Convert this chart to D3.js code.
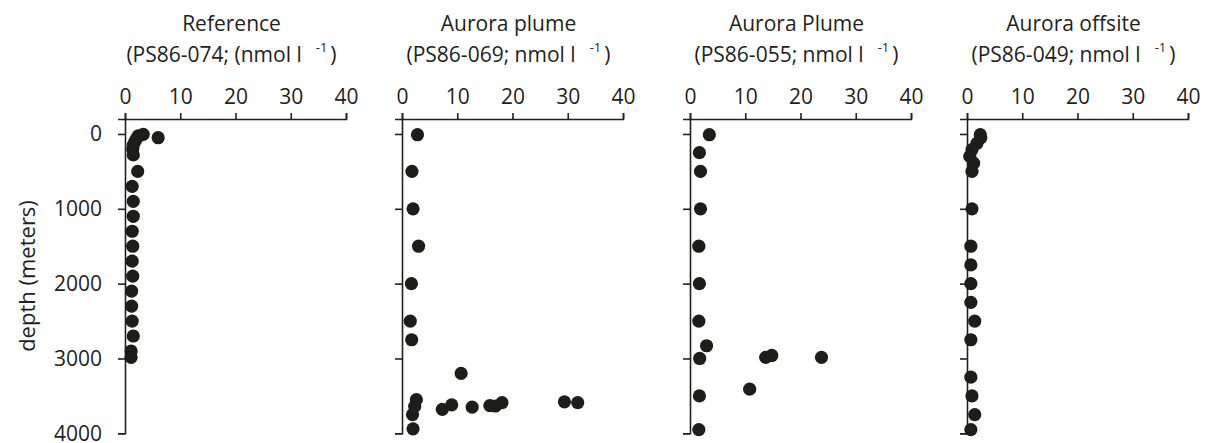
<!DOCTYPE html>
<html>
<head>
<meta charset="utf-8">
<script src="https://cdn.jsdelivr.net/npm/d3@7"></script>
<style>
  body { margin: 0; background: #fff; }
  text { font-family: "Open Sans", sans-serif; fill: #231f20; }
  .axis path, .axis line { stroke: #231f20; stroke-width: 1.6px; }
  .axis text { font-size: 21px; }
</style>
</head>
<body>
<script>
(function() {

//station titles
var titles = ["Reference", "Aurora plume", "Aurora Plume", "Aurora offsite"];
var stations = ["(PS86-074; (nmol l", "(PS86-069; nmol l", "(PS86-055; nmol l", "(PS86-049; nmol l"];

//tick values
var xTicks = [0, 10, 20, 30, 40];
var yTicks = [0, 1000, 2000, 3000, 4000];

//values (nmol/l) and depths (m)
var refDepth = [5, 25, 50, 60, 100, 150, 200, 280, 500, 700, 900, 1100, 1300, 1500, 1700, 1900, 2100, 2300, 2500, 2700, 2900, 2985];
var refConc  = [3.3, 2.4, 6.0, 2.1, 1.8, 1.5, 1.4, 1.5, 2.3, 1.3, 1.5, 1.5, 1.3, 1.4, 1.3, 1.4, 1.2, 1.2, 1.3, 1.5, 1.1, 1.1];

var p69Depth = [10, 500, 1000, 1500, 2000, 2500, 2750, 3200, 3550, 3640, 3750, 3940, 3680, 3620, 3650, 3630, 3635, 3590, 3580, 3590];
var p69Conc  = [2.8, 1.8, 2.0, 3.0, 1.7, 1.5, 1.75, 10.7, 2.6, 2.3, 1.9, 2.0, 7.3, 9.0, 12.7, 15.9, 16.9, 18.1, 29.4, 31.8];

var p55Depth = [10, 250, 500, 1000, 1500, 2000, 2500, 2830, 3000, 2985, 2960, 2985, 3410, 3500, 3950];
var p55Conc  = [3.5, 1.7, 1.9, 1.9, 1.6, 1.7, 1.6, 3.0, 1.75, 13.7, 14.8, 23.8, 10.8, 1.7, 1.6];

var p49Depth = [10, 50, 125, 210, 300, 390, 500, 1000, 1500, 1750, 2000, 2250, 2500, 2750, 3250, 3500, 3750, 3950];
var p49Conc  = [2.4, 2.5, 1.8, 0.9, 0.5, 1.2, 0.9, 0.9, 0.7, 0.7, 0.7, 0.7, 1.4, 0.7, 0.7, 0.9, 1.4, 0.7];

var depths = [refDepth, p69Depth, p55Depth, p49Depth];
var concs = [refConc, p69Conc, p55Conc, p49Conc];

//frame layout
var width = 1206, height = 443;
var panelLeft = [125, 402, 690, 967],
    panelWidth = 221,
    plotTop = 119,
    plotBottom = 433.3;

var svg = d3.select("body")
    .append("svg")
    .attr("width", width)
    .attr("height", height);

//depth scale, axis line sits 200 m above the surface
var yScale = d3.scaleLinear()
    .domain([-200, 4000])
    .range([plotTop, plotBottom]);

//y axis title
svg.append("text")
    .attr("transform", "translate(27,276) rotate(-90)")
    .attr("text-anchor", "middle")
    .attr("dy", "0.35em")
    .style("font-size", "22px")
    .text("depth (meters)");

panelLeft.forEach(function(x0, i) {
    var xScale = d3.scaleLinear()
        .domain([0, 40])
        .range([x0, x0 + panelWidth]);

    var cx = x0 + panelWidth / 2 - 4;

    //two line title with superscript
    svg.append("text")
        .attr("x", cx)
        .attr("y", 31)
        .attr("text-anchor", "middle")
        .style("font-size", "21px")
        .text(titles[i]);

    var sub = svg.append("text")
        .attr("x", cx)
        .attr("y", 62)
        .attr("text-anchor", "middle")
        .style("font-size", "21px");
    sub.append("tspan").text(stations[i]);
    sub.append("tspan")
        .attr("dx", 14)
        .attr("dy", -10)
        .style("font-size", "13px")
        .text("-1");
    sub.append("tspan")
        .attr("dx", 3)
        .attr("dy", 10)
        .text(")");

    //top x axis
    svg.append("g")
        .attr("class", "axis")
        .attr("transform", "translate(0," + plotTop + ")")
        .call(d3.axisTop(xScale).tickValues(xTicks).tickSizeOuter(0).tickSize(6).tickPadding(9));

    //left depth axis, labels only on the first panel
    var yAxis = d3.axisLeft(yScale)
        .tickValues(yTicks)
        .tickFormat(d3.format("d"))
        .tickSizeOuter(0)
        .tickSize(7)
        .tickPadding(16);
    if (i > 0) yAxis.tickFormat("");

    svg.append("g")
        .attr("class", "axis")
        .attr("transform", "translate(" + x0 + ",0)")
        .call(yAxis);

    //sample points
    svg.append("g")
        .selectAll("circle")
        .data(depths[i])
        .enter()
        .append("circle")
        .attr("cx", function(d, j) { return xScale(concs[i][j]); })
        .attr("cy", function(d) { return yScale(d); })
        .attr("r", 6.6)
        .style("fill", "#1d1d1b");
});

})();
</script>
</body>
</html>
